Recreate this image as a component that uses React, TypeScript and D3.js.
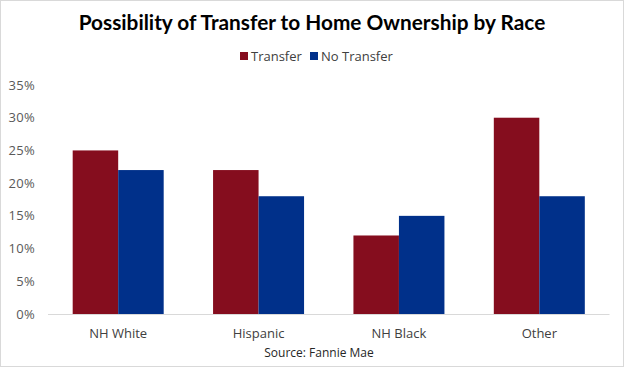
import React from "react";
import * as d3 from "d3";

const categories = ["NH White", "Hispanic", "NH Black", "Other"];
const seriesNames = ["Transfer", "No Transfer"];
const transferValues = [0.25, 0.22, 0.12, 0.30];
const noTransferValues = [0.22, 0.18, 0.15, 0.18];
const yTicks = [0, 0.05, 0.1, 0.15, 0.2, 0.25, 0.3, 0.35];
const colors = ["#850D1E", "#00308A"];

const W = 624;
const H = 367;
const font = "'Open Sans', 'Noto Sans', sans-serif";

export default function App() {
  const x0 = d3.scaleBand<string>().domain(categories).range([48, 609.5]).paddingInner(0).paddingOuter(0);
  const y = d3.scaleLinear().domain([0, 0.35]).range([314, 85]);
  const groupW = 91;
  const x1 = d3.scaleBand<string>().domain(seriesNames).range([0, groupW]).padding(0);
  const data = [transferValues, noTransferValues];
  const fmt = d3.format(".0%");

  return (
    <div style={{ position: "fixed", left: 0, top: 0 }}>
      <svg width={W} height={H} style={{ display: "block", fontFamily: font }}>
        <rect x={0.5} y={0.5} width={W - 1} height={H - 1} fill="#fff" stroke="#d9d9d9" />
        <text x={312} y={30} textAnchor="middle" fontSize={20.8} fontWeight="bold" fill="#000" fontFamily="Lato, sans-serif">
          Possibility of Transfer to Home Ownership by Race
        </text>
        {seriesNames.map((s, i) => {
          const lx = [240, 310][i];
          return (
            <g key={s}>
              <rect x={lx} y={52} width={8} height={8} fill={colors[i]} />
              <text x={lx + 11} y={61} fontSize={13} fill="#404040">{s}</text>
            </g>
          );
        })}
        {yTicks.map((t) => (
          <text key={t} x={35} y={y(t) + 4.5} textAnchor="end" fontSize={13} letterSpacing={0.3} fill="#595959">
            {fmt(t)}
          </text>
        ))}
        {categories.map((c, ci) => {
          const bx = (x0(c) as number) + (x0.bandwidth() - groupW) / 2;
          return (
            <g key={c}>
              {seriesNames.map((s, si) => {
                const v = data[si][ci];
                return (
                  <rect
                    key={s}
                    x={bx + (x1(s) as number)}
                    y={y(v)}
                    width={x1.bandwidth()}
                    height={y(0) - y(v)}
                    fill={colors[si]}
                  />
                );
              })}
              <text x={(x0(c) as number) + x0.bandwidth() / 2} y={338} textAnchor="middle" fontSize={13} fill="#404040">
                {c}
              </text>
            </g>
          );
        })}
        <line x1={48} x2={609.5} y1={314.5} y2={314.5} stroke="#d9d9d9" />
        <text x={319} y={357} textAnchor="middle" fontSize={12} fill="#262626">
          Source: Fannie Mae
        </text>
      </svg>
    </div>
  );
}
